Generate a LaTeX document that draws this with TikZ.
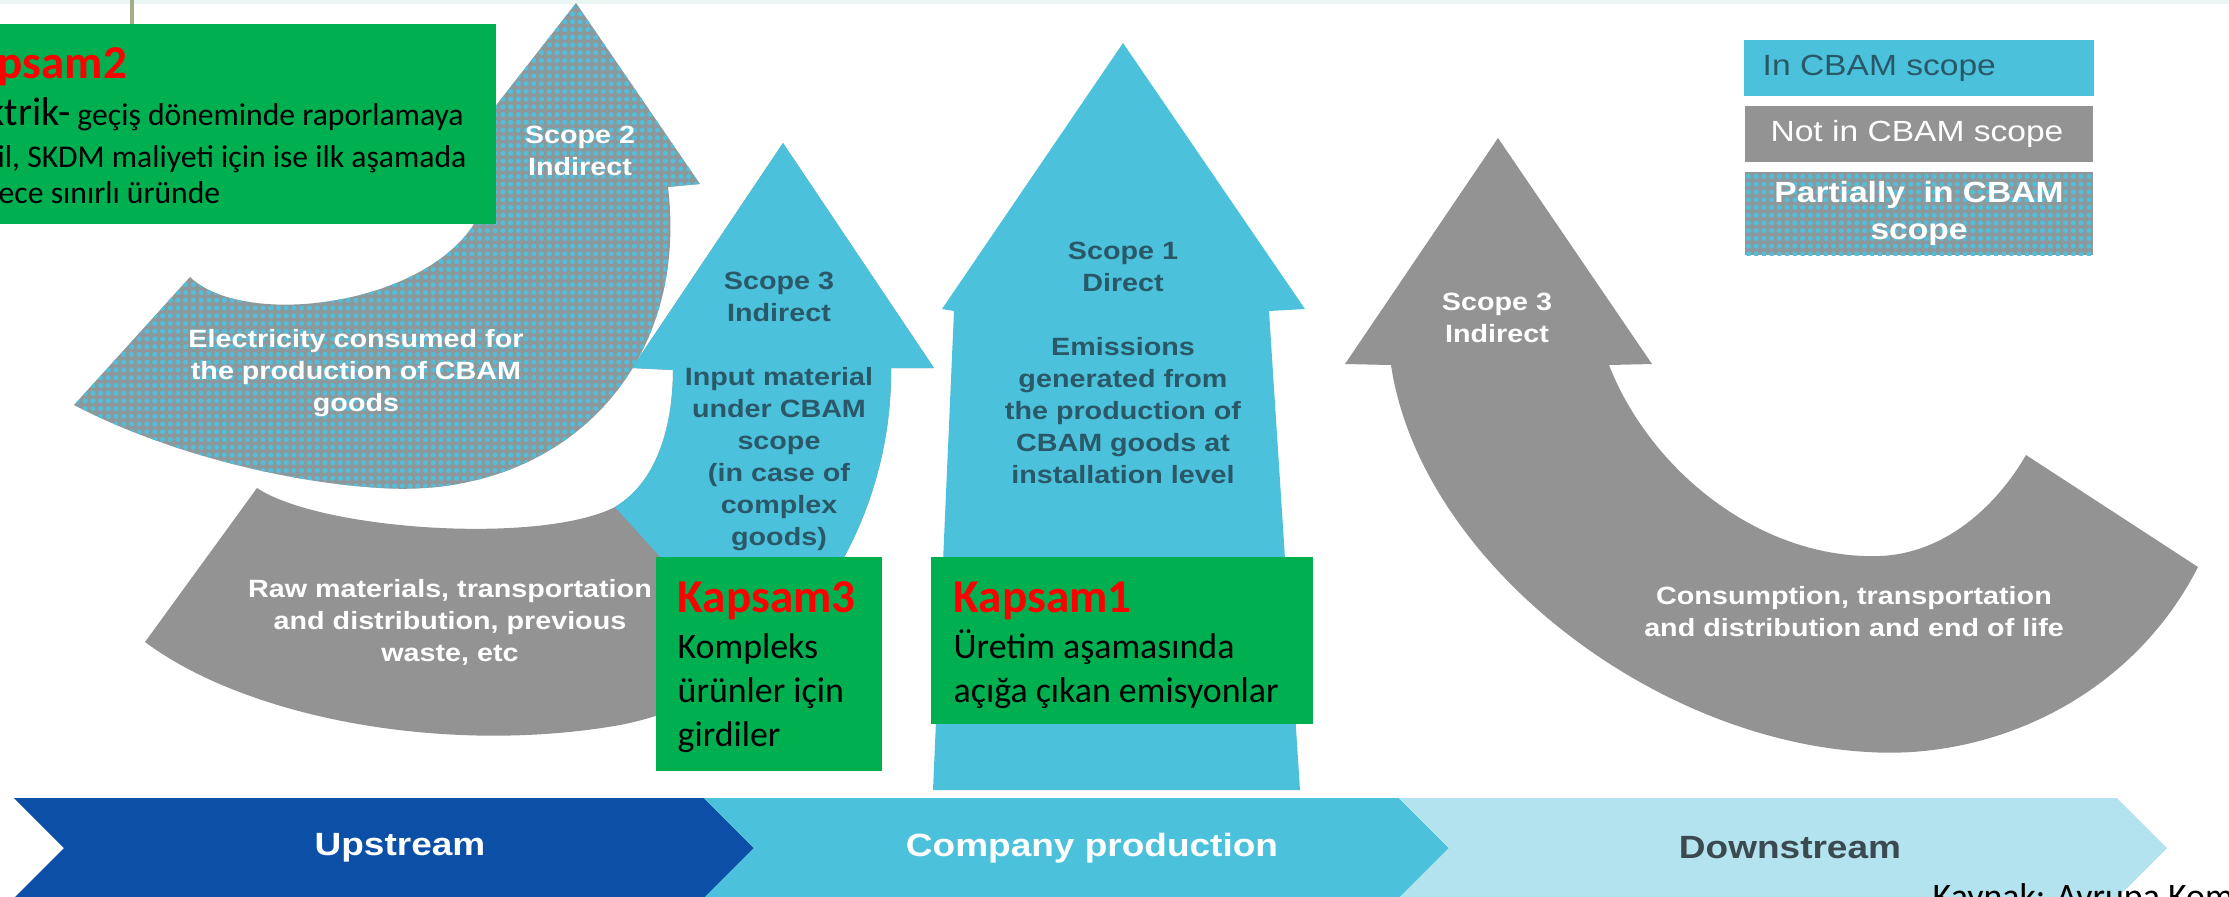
\documentclass[tikz,border=0pt]{standalone}
\usepackage{fontspec}
\setmainfont{Carlito}
\newfontfamily\arw[FakeStretch=1.15]{Liberation Sans}
\usetikzlibrary{patterns.meta}
\definecolor{cbamcyan}{HTML}{4BC1DC}
\definecolor{cbamgrey}{HTML}{939393}
\definecolor{cbamdark}{HTML}{2B5868}
\definecolor{upblue}{HTML}{0B4FA6}
\definecolor{downcyan}{HTML}{B3E3EE}
\definecolor{downtext}{HTML}{3B4A50}
\definecolor{boxgreen}{HTML}{00B050}
\definecolor{partgrey}{HTML}{8E979A}
\definecolor{partdot}{HTML}{55BDD6}
\definecolor{toppale}{HTML}{EAF6F4}
\definecolor{olive}{HTML}{A4AE86}
\begin{document}
\begin{tikzpicture}[x=0.01cm,y=-0.01cm,
    partly/.style={fill=partgrey,postaction={pattern={Dots[distance=2.2pt,radius=0.75pt]},pattern color=partdot}},
    uppath/.style={insert path={(145,642) -- (257,488) .. controls (320,530) and (540,545) .. (615,507)
      .. controls (660,480) and (673,420) .. (673,370) -- (632,368) -- (783,143) -- (934,368) -- (891,368)
      .. controls (893,520) and (800,690) .. (620,725) .. controls (450,755) and (250,720) .. cycle}},
    intxt/.style={align=center,text=white,font=\arw\bfseries\fontsize{7.1}{9.1}\selectfont},
    bandtxt/.style={font=\arw\bfseries\fontsize{9.15}{11}\selectfont},
    legtxt/.style={font=\arw\fontsize{8.3}{10.5}\selectfont},
    khead/.style={anchor=base west,inner sep=0,text=red,font=\bfseries\fontsize{13.4}{16}\selectfont},
    kbody/.style={anchor=base west,inner sep=0,font=\fontsize{10.2}{12.5}\selectfont},
    ksmall/.style={anchor=base west,inner sep=0,font=\fontsize{9}{11}\selectfont}]
  \useasboundingbox (0,0) rectangle (2229,896);
  \begin{scope}
    \clip (0,0) rectangle (2229,896);
    \fill[toppale] (0,0) rectangle (2229,4);
    \draw[olive,line width=1.1pt] (132,0) -- (132,24);

    \fill[upblue] (14,798) -- (704,798) -- (754,848) -- (704,898) -- (14,898) -- (64,848) -- cycle;
    \fill[cbamcyan] (704,798) -- (1399,798) -- (1449,848) -- (1399,898) -- (704,898) -- (754,848) -- cycle;
    \fill[downcyan] (1399,798) -- (2117,798) -- (2167,848) -- (2117,898) -- (1399,898) -- (1449,848) -- cycle;
    \node[bandtxt,text=white] (up) at (400,848) {Upstream};
    \node[bandtxt,text=white] (prod) at (1092,848) {Company production};
    \node[bandtxt,text=downtext] (down) at (1790,848) {Downstream};

    \fill[partly] (74,405) -- (190,277) .. controls (250,335) and (470,300) .. (488,188) -- (433,186)
      -- (576,3) -- (700,184) -- (668,187) .. controls (690,370) and (560,500) .. (380,488)
      .. controls (280,482) and (160,450) .. cycle;
    \fill[cbamgrey,uppath];
    \begin{scope}
      \clip (540,425) -- (800,710) -- (1000,710) -- (1000,0) -- (540,0) -- cycle;
      \fill[cbamcyan,uppath];
    \end{scope}
    \fill[cbamcyan] (1123,43) -- (1305,309) -- (1269,311) -- (1300,790) -- (933,790) -- (954,311) -- (942,309) -- cycle;
    \fill[cbamgrey] (1498,138) -- (1652,364) -- (1609,365) .. controls (1650,470) and (1760,560) .. (1880,556)
      .. controls (1950,553) and (2000,500) .. (2026,455) -- (2198,567) .. controls (2130,700) and (1990,760) .. (1868,752)
      .. controls (1650,740) and (1420,560) .. (1391,365) -- (1345,364) -- cycle;

    \node[intxt] (s2) at (580,151) {Scope 2\\Indirect};
    \node[intxt] (elec) at (356,373) {Electricity consumed for\\the production of CBAM\\goods};
    \node[intxt,text=cbamdark] (s3) at (779,411) {Scope 3\\Indirect\\[9.1pt]Input material\\under CBAM\\scope\\(in case of\\complex\\goods)};
    \node[intxt,text=cbamdark] (s1) at (1123,363) {Scope 1\\Direct\\[9.1pt]Emissions\\generated from\\the production of\\CBAM goods at\\installation level};
    \node[intxt] (s3d) at (1497,318) {Scope 3\\Indirect};
    \node[intxt] (raw) at (450,622) {Raw materials, transportation\\and distribution, previous\\waste, etc};
    \node[intxt] (cons) at (1854,612) {Consumption, transportation\\and distribution and end of life};

    \fill[cbamcyan] (1744,40) rectangle (2094,96);
    \fill[cbamgrey] (1745,106) rectangle (2093,162);
    \fill[partly] (1745,172) rectangle (2093,255);
    \node[legtxt,anchor=west,inner sep=0,text=cbamdark] (lin) at (1762,68) {In CBAM scope};
    \node[legtxt,text=white] (lnot) at (1917,134) {Not in CBAM scope};
    \node[legtxt,text=white,font=\arw\bfseries\fontsize{8.3}{10.5}\selectfont,align=center] (lpart) at (1919,213) {Partially\ \ in CBAM\\scope};

    \fill[boxgreen] (0,24) rectangle (496,224);
    \fill[boxgreen] (656,557) rectangle (882,771);
    \fill[boxgreen] (931,557) rectangle (1313,724);
    \node[khead] (k2) at (-3,78) {psam2};
    \node[ksmall] (k2a) at (-14,125) {{\fontsize{11.4}{13}\selectfont ktrik-} geçiş döneminde raporlamaya};
    \node[ksmall] (k2b) at (-3,167) {il, SKDM maliyeti için ise ilk aşamada};
    \node[ksmall] (k2c) at (-2,203) {ece sınırlı üründe};
    \node[khead] (k3) at (677,612) {Kapsam3};
    \node[kbody] (k3a) at (677,658) {Kompleks};
    \node[kbody] (k3b) at (677,702) {ürünler için};
    \node[kbody] (k3c) at (677,746) {girdiler};
    \node[khead] (k1) at (953,612) {Kapsam1};
    \node[kbody] (k1a) at (953,658) {Üretim aşamasında};
    \node[kbody] (k1b) at (953,702) {açığa çıkan emisyonlar};
    \node[kbody] (src) at (1932,908) {Kaynak: Avrupa Kom};
  \end{scope}
\end{tikzpicture}
\end{document}
